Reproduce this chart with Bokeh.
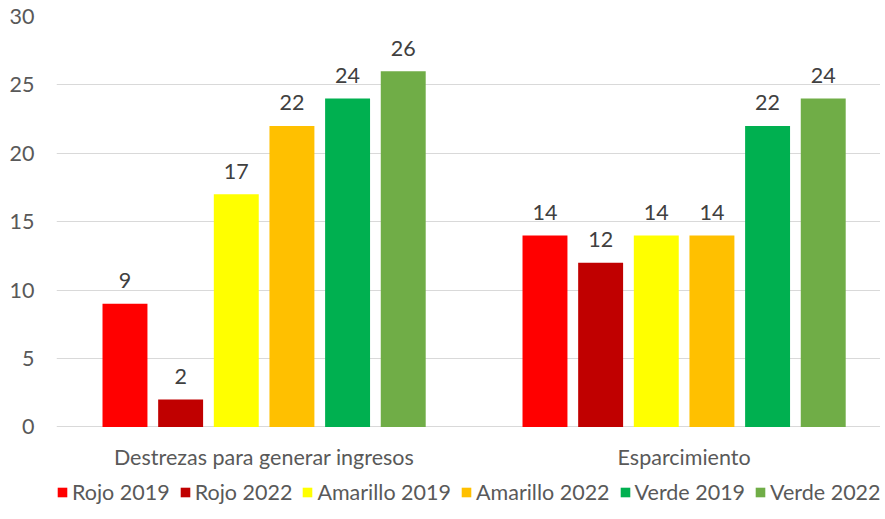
from bokeh.plotting import figure
from bokeh.models import ColumnDataSource, Range1d, FixedTicker, Legend, LegendItem
from bokeh.embed import file_html
from bokeh.resources import INLINE
from bokeh.core.properties import value

categories = ["Destrezas para generar ingresos", "Esparcimiento"]
series = ["Rojo 2019", "Rojo 2022", "Amarillo 2019", "Amarillo 2022", "Verde 2019", "Verde 2022"]
colors = ["#FF0000", "#C00000", "#FFFF00", "#FFC000", "#00B050", "#70AD47"]
rojo_2019 = [9, 14]
rojo_2022 = [2, 12]
amarillo_2019 = [17, 14]
amarillo_2022 = [22, 14]
verde_2019 = [24, 22]
verde_2022 = [26, 24]
values_by_series = [rojo_2019, rojo_2022, amarillo_2019, amarillo_2022, verde_2019, verde_2022]
y_ticks = [0, 5, 10, 15, 20, 25, 30]

FONT = "Lato"
TXT = "#595959"
FS = "21.5px"
step = 0.1325
bar_w = 0.107

# frame spans from the 30 line down to the page bottom; the band below 0 holds
# the category labels and the legend
p = figure(width=880, height=515, output_backend="svg", toolbar_location=None,
           x_axis_type=None,
           x_range=Range1d(0.0057, 1.9676), y_range=Range1d(-6.47, 30),
           min_border_left=56, min_border_right=0, min_border_top=16, min_border_bottom=0)
p.outline_line_color = None
p.background_fill_color = "white"

cat_centers = [i + 0.5 for i in range(len(categories))]
items = []
for j, (name, vals, col) in enumerate(zip(series, values_by_series, colors)):
    xs = [c + (j - 2.5) * step for c in cat_centers]
    src = ColumnDataSource(dict(x=xs, top=vals, lbl=[str(v) for v in vals]))
    r = p.vbar(x="x", top="top", width=bar_w, bottom=0, source=src, fill_color=col, line_color=None)
    p.text(x="x", y="top", text="lbl", source=src, text_align="center", text_baseline="alphabetic",
           y_offset=-23, text_font=value(FONT), text_font_size=FS, text_color="#404040")
    items.append(LegendItem(label=name, renderers=[r]))

# category labels under the zero line
cat_src = ColumnDataSource(dict(x=cat_centers, y=[0] * len(categories), t=categories))
p.text(x="x", y="y", text="t", source=cat_src, text_align="center", text_baseline="middle",
       y_offset=30, text_font=value(FONT), text_font_size=FS, text_color=TXT)

p.xgrid.grid_line_color = None

p.yaxis.ticker = FixedTicker(ticks=y_ticks)
p.yaxis.axis_line_color = None
p.yaxis.major_tick_line_color = None
p.yaxis.major_tick_out = 0
p.yaxis.major_tick_in = 0
p.yaxis.minor_tick_line_color = None
p.yaxis.major_label_standoff = 22
p.yaxis.major_label_text_font = FONT
p.yaxis.major_label_text_font_size = FS
p.yaxis.major_label_text_color = TXT
p.ygrid.grid_line_color = "#d9d9d9"
p.ygrid.grid_line_width = 1

legend = Legend(items=items, orientation="horizontal", location=(0, 10),
                glyph_width=12, glyph_height=12, label_standoff=4, spacing=9,
                label_text_font=FONT, label_text_font_size=FS, label_text_color=TXT,
                border_line_color=None, background_fill_alpha=0, margin=0, padding=2,
                label_height=20)
p.add_layout(legend, "center")

open("out.html", "w").write(file_html(p, INLINE))
